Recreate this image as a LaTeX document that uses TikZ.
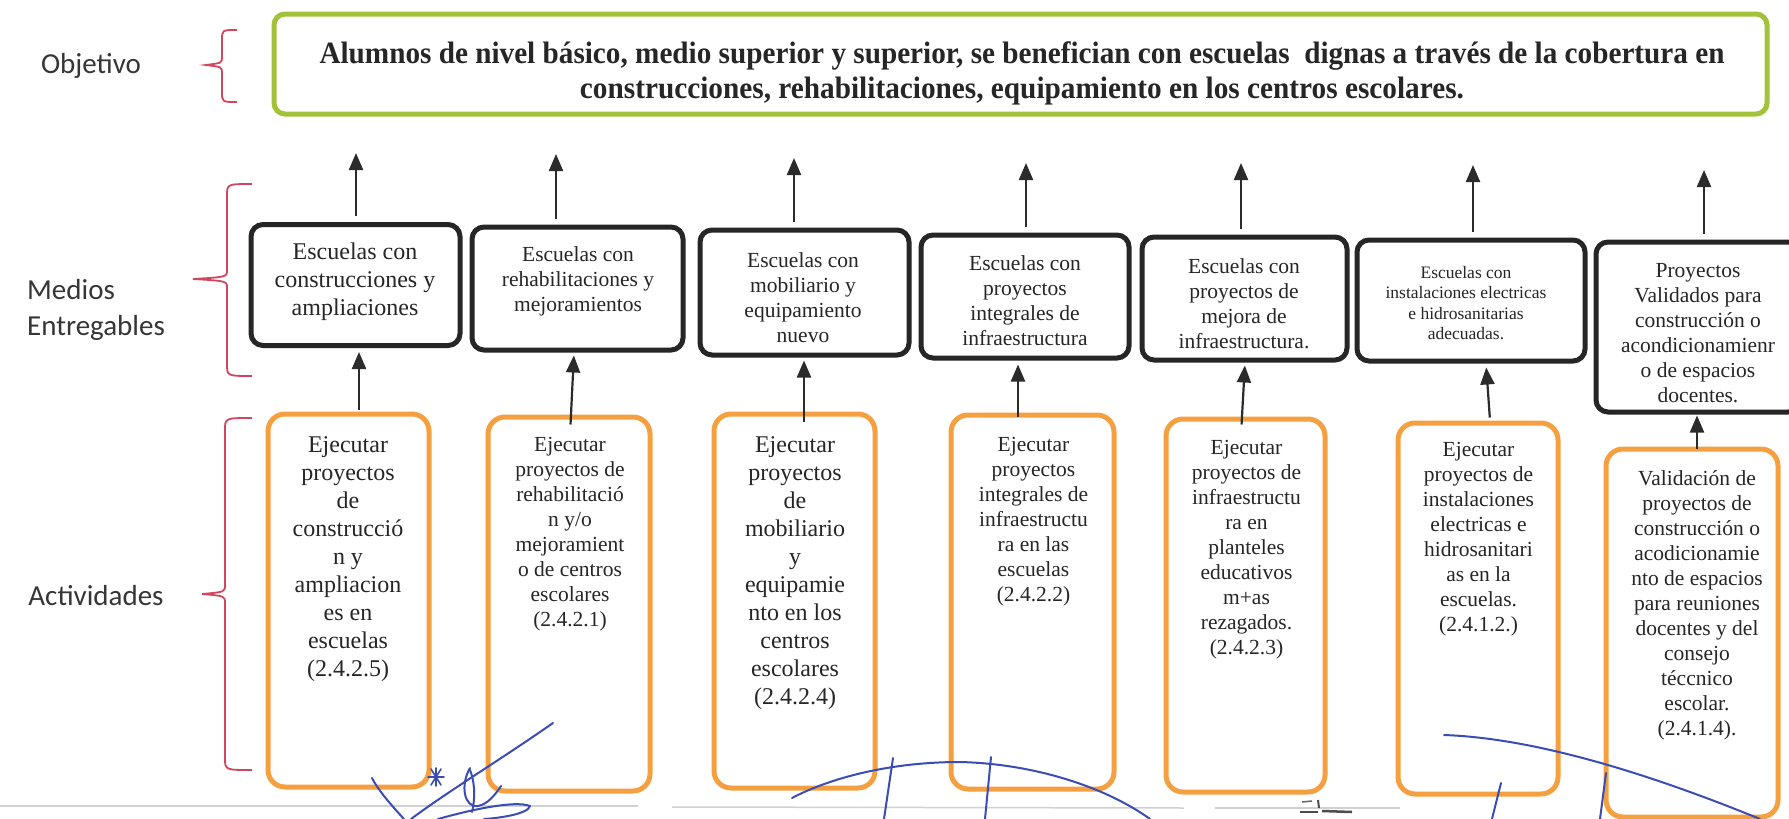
\documentclass[tikz,border=0pt]{standalone}
\usepackage{fontspec}
\setmainfont{Liberation Serif}
\newfontfamily\calibri{Carlito}
\usetikzlibrary{arrows.meta,calc}
\definecolor{objgreen}{HTML}{A2C23A}
\definecolor{mdark}{HTML}{262626}
\definecolor{actorange}{HTML}{F5A040}
\definecolor{bracered}{HTML}{D0465E}
\definecolor{arrgray}{HTML}{2B2B2B}
\definecolor{txtgray}{HTML}{262626}
\definecolor{lblgray}{HTML}{363636}
\definecolor{sigblue}{HTML}{3B4DB5}
\begin{document}
\begin{tikzpicture}[x=1pt,y=-1pt,
  objbox/.style={draw=objgreen, line width=5pt, rounded corners=11pt, fill=white, inner sep=0pt},
  medbox/.style={draw=mdark, line width=5pt, rounded corners=12pt, fill=white, inner sep=0pt},
  actbox/.style={draw=actorange, line width=5pt, rounded corners=17pt, fill=white, inner sep=0pt},
  objtxt/.style={inner sep=0pt, text=txtgray, font=\bfseries\fontsize{31}{35}\selectfont},
  txtL/.style={align=center, inner sep=0pt, text=txtgray, font=\fontsize{24}{28}\selectfont},
  txtM/.style={align=center, inner sep=0pt, text=txtgray, font=\fontsize{21.5}{25}\selectfont},
  txtS/.style={align=center, inner sep=0pt, text=txtgray, font=\fontsize{17.5}{20.5}\selectfont},
  lbl/.style={inner sep=0pt, text=lblgray, font=\calibri\fontsize{29}{36}\selectfont},
  arr/.style={-{Triangle[length=17pt,width=14pt]}, line width=2.2pt, draw=arrgray},
  bracestyle/.style={draw=bracered, line width=1.8pt},
  sig/.style={draw=sigblue, line width=2pt, line cap=round, line join=round},
  scanline/.style={draw=black!18, line width=1.5pt}
]
\useasboundingbox (0,0) rectangle (1789,819);
\fill[white] (0,0) rectangle (1789,819);
\clip (0,0) rectangle (1789,819);

% ---------- left labels ----------
\node[lbl, anchor=base] (lobj) at (91,73) {Objetivo};
\node[lbl, anchor=base west] (lmed1) at (27,299) {Medios};
\node[lbl, anchor=base west] (lmed2) at (27,335) {Entregables};
\node[lbl, anchor=base] (lact) at (96,605) {Actividades};

% ---------- braces ----------
\draw[bracestyle] (237,30) .. controls (222,30) .. (222,40) -- (222,57)
  .. controls (222,63) .. (206,65) .. controls (222,67) .. (222,73) -- (222,92)
  .. controls (222,102) .. (237,102);
\draw[bracestyle] (252,184) .. controls (227,184) .. (227,196) -- (227,270)
  .. controls (227,277) .. (193,279) .. controls (227,281) .. (227,288) -- (227,364)
  .. controls (227,376) .. (252,376);
\draw[bracestyle] (252,418) .. controls (225,418) .. (225,430) -- (225,585)
  .. controls (225,592) .. (202,594) .. controls (225,596) .. (225,603) -- (225,758)
  .. controls (225,770) .. (252,770);

% ---------- objective ----------
\node[objbox, minimum width=1493pt, minimum height=100pt] (obj) at (1020.5,64) {};
\node[objtxt, anchor=base] (objl1) at (1022,63) {\resizebox{1405pt}{\height}{Alumnos de nivel básico, medio superior y superior, se benefician con escuelas\ \ dignas a través de la cobertura en}};
\node[objtxt, anchor=base] (objl2) at (1022,98) {\resizebox{884pt}{\height}{construcciones, rehabilitaciones, equipamiento en los centros escolares.}};

% ---------- medios entregables ----------
\node[medbox, minimum width=209pt, minimum height=121pt] (m1) at (355.5,285) {};
\node[medbox, minimum width=211pt, minimum height=123pt] (m2) at (577.5,288.5) {};
\node[medbox, minimum width=209pt, minimum height=125pt] (m3) at (804.5,292.5) {};
\node[medbox, minimum width=208pt, minimum height=123pt] (m4) at (1025,296.5) {};
\node[medbox, minimum width=205pt, minimum height=123pt] (m5) at (1244.5,298.5) {};
\node[medbox, minimum width=228pt, minimum height=121pt] (m6) at (1471,300.5) {};
\node[medbox, minimum width=204pt, minimum height=170pt] (m7) at (1698,327) {};

\node[txtL] (m1t) at (355,282) {Escuelas con\\construcciones y\\ampliaciones};
\node[txtM] (m2t) at (578,281) {Escuelas con\\rehabilitaciones y\\mejoramientos};
\node[txtM] (m3t) at (803,297.5) {Escuelas con\\mobiliario y\\equipamiento\\nuevo};
\node[txtM] (m4t) at (1025,301) {Escuelas con\\proyectos\\integrales de\\infraestructura};
\node[txtM] (m5t) at (1244,303.5) {Escuelas con\\proyectos de\\mejora de\\infraestructura.};
\node[txtS] (m6t) at (1466,303) {Escuelas con\\instalaciones electricas\\e hidrosanitarias\\adecuadas.};
\node[txtM] (m7t) at (1698,333) {Proyectos\\Validados para\\construcción o\\acondicionamienr\\o de espacios\\docentes.};

% ---------- actividades ----------
\node[actbox, minimum width=161pt, minimum height=373pt] (a1) at (348.5,600.5) {};
\node[actbox, minimum width=162pt, minimum height=374pt] (a2) at (569,604) {};
\node[actbox, minimum width=161pt, minimum height=374pt] (a3) at (794.5,601) {};
\node[actbox, minimum width=163pt, minimum height=374pt] (a4) at (1032.5,602) {};
\node[actbox, minimum width=159pt, minimum height=373pt] (a5) at (1245.5,605.5) {};
\node[actbox, minimum width=160pt, minimum height=371pt] (a6) at (1478,608.5) {};
\node[actbox, minimum width=172pt, minimum height=368pt] (a7) at (1692,633) {};

\node[txtL, anchor=north] (a1t) at (348,436) {Ejecutar\\proyectos\\de\\construcció\\n y\\ampliacion\\es en\\escuelas\\(2.4.2.5)};
\node[txtM, anchor=north] (a2t) at (570,437) {Ejecutar\\proyectos de\\rehabilitació\\n y/o\\mejoramient\\o de centros\\escolares\\(2.4.2.1)};
\node[txtL, anchor=north] (a3t) at (795,436) {Ejecutar\\proyectos\\de\\mobiliario\\y\\equipamie\\nto en los\\centros\\escolares\\(2.4.2.4)};
\node[txtM, anchor=north] (a4t) at (1033.5,437) {Ejecutar\\proyectos\\integrales de\\infraestructu\\ra en las\\escuelas\\(2.4.2.2)};
\node[txtM, anchor=north] (a5t) at (1246.5,440) {Ejecutar\\proyectos de\\infraestructu\\ra en\\planteles\\educativos\\m+as\\rezagados.\\(2.4.2.3)};
\node[txtM, anchor=north] (a6t) at (1478.5,442) {Ejecutar\\proyectos de\\instalaciones\\electricas e\\hidrosanitari\\as en la\\escuelas.\\(2.4.1.2.)};
\node[txtM, anchor=north] (a7t) at (1697,470) {Validación de\\proyectos de\\construcción o\\acodicionamie\\nto de espacios\\para reuniones\\docentes y del\\consejo\\téccnico\\escolar.\\(2.4.1.4).};

% ---------- arrows towards the objective ----------
\coordinate (u1) at (356,153);
\coordinate (u2) at (556,154);
\coordinate (u3) at (794,158);
\coordinate (u4) at (1026,163);
\coordinate (u5) at (1241,163);
\coordinate (u6) at (1473,165);
\coordinate (u7) at (1704,170);
\foreach \i in {1,...,7}{
  \draw[arr, shorten <=6pt] (m\i.north -| u\i) -- (u\i);
}

% ---------- arrows from activities to deliverables ----------
\coordinate (v1) at (359,0);
\coordinate (v2a) at (571,0) ; \coordinate (v2b) at (574,0);
\coordinate (v3) at (804,0);
\coordinate (v4) at (1018,0);
\coordinate (v5a) at (1242,0) ; \coordinate (v5b) at (1245,0);
\coordinate (v6a) at (1490,0) ; \coordinate (v6b) at (1486,0);
\coordinate (v7) at (1697,0);
\draw[arr, shorten <=2pt, shorten >=4pt] (a1.north -| v1) -- (m1.south -| v1);
\draw[arr, shorten <=-10pt, shorten >=3pt] (a2.north -| v2a) -- (m2.south -| v2b);
\draw[arr, shorten <=-10pt, shorten >=3pt] (a3.north -| v3) -- (m3.south -| v3);
\draw[arr, shorten <=-4pt, shorten >=4pt] (a4.north -| v4) -- (m4.south -| v4);
\draw[arr, shorten <=-8pt, shorten >=3pt] (a5.north -| v5a) -- (m5.south -| v5b);
\draw[arr, shorten <=3pt, shorten >=4pt] (a6.north -| v6a) -- (m6.south -| v6b);
\draw[arr, shorten <=-2pt, shorten >=1pt] (a7.north -| v7) -- (m7.south -| v7);

% ---------- scan residue at the bottom ----------
\draw[scanline] (0,806) -- (638,806);
\draw[scanline] (672,807) -- (1184,808);
\draw[scanline] (1215,808) -- (1400,808);
\draw[black!70, line width=2pt] (1300,812) -- (1318,812);
\draw[black!70, line width=2.5pt] (1322,811) -- (1352,812);
\draw[black!60, line width=1.5pt] (1302,802) -- (1312,801);
\draw[black!70, line width=2pt] (1318,800) -- (1319,808);

% ---------- signatures ----------
\draw[sig] (553,723) .. controls (500,760) and (450,790) .. (411,819);
\draw[sig, line width=1.6pt] (428,777) -- (444,777) (431,769) -- (441,785) (441,769) -- (431,785) (436,768) -- (436,786);
\draw[sig] (372,778) .. controls (378,790) and (392,806) .. (404,819);
\draw[sig] (470,768) .. controls (460,785) and (464,808) .. (478,806) .. controls (488,804) and (495,795) .. (501,786);
\draw[sig] (470,770) .. controls (474,780) and (476,795) .. (472,812);
\draw[sig] (438,819) .. controls (470,810) and (515,800) .. (530,806) .. controls (528,814) and (500,818) .. (484,819);
\draw[sig] (792,798) .. controls (830,778) and (890,762) .. (960,762) .. controls (1040,764) and (1110,790) .. (1150,819);
\draw[sig] (893,758) -- (884,819);
\draw[sig] (991,757) -- (985,819);
\draw[sig] (1444,735) .. controls (1530,738) and (1640,770) .. (1760,819);
\draw[sig] (1501,783) -- (1492,819);
\draw[sig] (1606,773) -- (1600,819);
\end{tikzpicture}
\end{document}
